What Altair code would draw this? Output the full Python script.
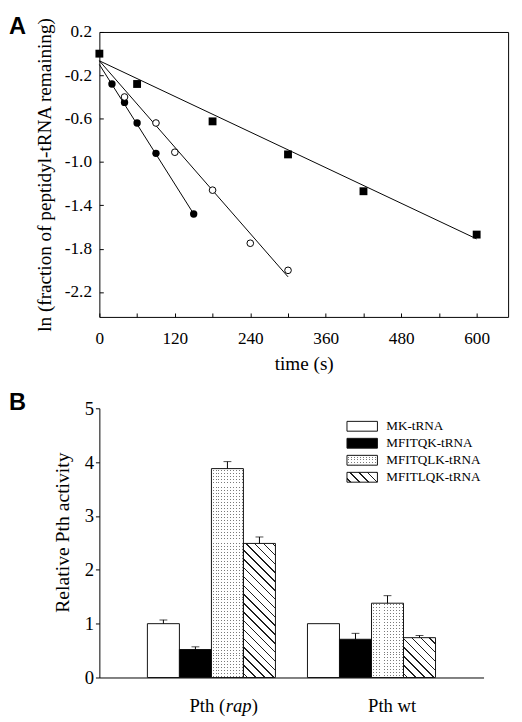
import altair as alt
import pandas as pd

FONT = "Liberation Serif"
BOLD_FONT = "Liberation Sans"

# ---------------- Panel A data ----------------
sq_t = [0, 60, 180, 300, 420, 600]
sq_y = [0.0, -0.28, -0.625, -0.93, -1.27, -1.67]
fc_t = [20, 40, 60, 90, 150]
fc_y = [-0.28, -0.45, -0.64, -0.92, -1.48]
oc_t = [40, 90, 120, 180, 240, 300]
oc_y = [-0.40, -0.64, -0.91, -1.26, -1.75, -2.00]
fit_series = ["sq", "sq", "oc", "oc", "fc", "fc"]
fit_t = [0, 600, 0, 300, 0, 150]
fit_y = [-0.066, -1.71, -0.066, -2.06, -0.10, -1.48]
x_ticks_A = [0, 60, 120, 180, 240, 300, 360, 420, 480, 540, 600]
y_ticks_A = [-2.2, -1.8, -1.4, -1.0, -0.6, -0.2, 0.2]
x_domain_A = [0, 650]
y_domain_A = [-2.43, 0.2]

# ---------------- Panel B data ----------------
groups = ["Pth (rap)", "Pth wt"]
series = ["MK-tRNA", "MFITQK-tRNA", "MFITQLK-tRNA", "MFITLQK-tRNA"]
vals_rap = [1.0, 0.52, 3.88, 2.49]
errs_rap = [0.07, 0.05, 0.13, 0.12]
vals_wt = [1.0, 0.71, 1.38, 0.74]
errs_wt = [0.0, 0.11, 0.14, 0.04]
y_ticks_B = [0, 1, 2, 3, 4, 5]
y_domain_B = [0, 5]
label_text = ["Pth (", "rap", ")", "Pth wt"]
label_group = [groups[0], groups[0], groups[0], groups[1]]
panel_labels = ["A", "B"]

# ---------------- sizes / styles ----------------
WA, HA = 416, 290
WB, HB = 391, 274
BAR_W = WB / 12.0
LEG_W, LEG_H = 31.0, 10.0
WHITE = "#ffffff"
CLEAR = "rgba(255,255,255,0)"
DOT = "#7a7a7a"
HATCH = "#1e1e1e"
EDGE = "#111111"


def stripes(n_periods, start, length, on_color, off_color):
    stops = [{"offset": 0, "color": off_color}]
    i = 0
    while True:
        a = (i + start) / n_periods
        if a >= 1:
            break
        b = min((i + start + length) / n_periods, 1.0)
        stops += [{"offset": round(a, 5), "color": off_color},
                  {"offset": round(a, 5), "color": on_color},
                  {"offset": round(b, 5), "color": on_color},
                  {"offset": round(b, 5), "color": off_color}]
        i += 1
    stops.append({"offset": 1, "color": off_color})
    return stops


def hatch_grad(w, h, period=9.0, line=1.5):
    span = w + h
    k = span / (w * w + h * h)
    return {"gradient": "linear", "x1": 0, "y1": 1, "x2": round(w * k, 5), "y2": round(1 - h * k, 5),
            "stops": stripes(span / period, 0.35, line / period, HATCH, WHITE)}


def vstripe_grad(w, period=3.0):
    return {"gradient": "linear", "x1": 0, "y1": 0, "x2": 1, "y2": 0,
            "stops": stripes(w / period, 0.4, 1.0 / period, DOT, WHITE)}


def hmask_grad(h, period=3.0):
    return {"gradient": "linear", "x1": 0, "y1": 0, "x2": 0, "y2": 1,
            "stops": stripes(h / period, 0.4, 1.0 / period, CLEAR, WHITE)}


# ---------------- Panel A ----------------
fit_df = pd.DataFrame({"series": fit_series, "t": fit_t, "y": fit_y})
sq_df = pd.DataFrame({"t": sq_t, "y": sq_y})
fc_df = pd.DataFrame({"t": fc_t, "y": fc_y})
oc_df = pd.DataFrame({"t": oc_t, "y": oc_y})

xA = alt.X("t:Q", scale=alt.Scale(domain=x_domain_A, nice=False, zero=False),
           axis=alt.Axis(values=x_ticks_A, labelExpr="datum.value % 120 === 0 ? datum.label : ''",
                         offset=-4, tickSize=4, tickColor="black", domain=False, grid=False,
                         labelFont=FONT, labelFontSize=17.5, labelColor="black", labelPadding=13,
                         labelFlush=False, labelOverlap=False,
                         title="time (s)", titleFont=FONT, titleFontSize=19.5, titleFontWeight="normal",
                         titleColor="black", titlePadding=8))
yA = alt.Y("y:Q", scale=alt.Scale(domain=y_domain_A, nice=False, zero=False),
           axis=alt.Axis(values=y_ticks_A,
                         labelExpr="(datum.value < 0 ? '-' : '') + format(abs(datum.value), '.1f')",
                         offset=-4, tickSize=4, tickColor="black", domain=False, grid=False,
                         labelFont=FONT, labelFontSize=17.5, labelColor="black", labelPadding=8,
                         labelOverlap=False,
                         title="ln (fraction of peptidyl-tRNA remaining)", titleFont=FONT,
                         titleFontSize=19.5, titleFontWeight="normal", titleColor="black",
                         titlePadding=10))

linesA = alt.Chart(fit_df).mark_line(color="black", strokeWidth=1).encode(x=xA, y=yA, detail="series:N")
squares = alt.Chart(sq_df).mark_point(shape="square", filled=True, color="black", size=64,
                                      opacity=1).encode(x="t:Q", y="y:Q")
fcircles = alt.Chart(fc_df).mark_circle(color="black", size=56, opacity=1).encode(x="t:Q", y="y:Q")
ocircles = alt.Chart(oc_df).mark_circle(fill="white", stroke="black", strokeWidth=1, size=46,
                                        opacity=1).encode(x="t:Q", y="y:Q")
labA = alt.Chart(pd.DataFrame({"lab": [panel_labels[0]]})).mark_text(
    font=BOLD_FONT, fontSize=24, fontWeight="bold", align="left", baseline="top", color="black"
).encode(x=alt.value(-92), y=alt.value(-17), text="lab:N")

panelA = alt.layer(linesA, squares, fcircles, ocircles, labA).properties(
    width=WA, height=HA, view=alt.ViewBackground(stroke="black", strokeWidth=1))

# ---------------- Panel B ----------------
rows = []
for g, vals, errs in [(groups[0], vals_rap, errs_rap), (groups[1], vals_wt, errs_wt)]:
    for s, v, e in zip(series, vals, errs):
        rows.append({"group": g, "series": s, "value": v, "upper": v + e, "err": e})
bdf = pd.DataFrame(rows)

xB = alt.X("group:N", scale=alt.Scale(domain=groups, paddingInner=0.2, paddingOuter=0.3),
           axis=alt.Axis(labels=False, ticks=False, title=None, domain=True, domainColor="black",
                         domainWidth=1, grid=False))
xoB = alt.XOffset("series:N", scale=alt.Scale(domain=series, paddingInner=0, paddingOuter=0))
yB = alt.Y("value:Q", scale=alt.Scale(domain=y_domain_B, nice=False),
           axis=alt.Axis(values=y_ticks_B, format="d", tickSize=4, tickColor="black", domainColor="black",
                         grid=False, labelFont=FONT, labelFontSize=19, labelColor="black", labelPadding=2,
                         title="Relative Pth activity", titleFont=FONT, titleFontSize=20,
                         titleFontWeight="normal", titleColor="black", titlePadding=12, titleY=126))
fillB = alt.Fill("series:N", scale=alt.Scale(domain=series, range=["white", "black", "white", "white"]),
                 legend=None)

bars = alt.Chart(bdf).mark_bar(strokeWidth=0).encode(x=xB, xOffset=xoB, y=yB, fill=fillB)
layersB = [bars]

for g, vals in [(groups[0], vals_rap), (groups[1], vals_wt)]:
    # dotted bar (MFITQLK)
    v = vals[2]
    h = v / y_domain_B[1] * HB
    base = alt.Chart(bdf).transform_filter(
        (alt.datum.group == g) & (alt.datum.series == series[2]))
    layersB.append(base.mark_bar(fill=vstripe_grad(BAR_W), strokeWidth=0).encode(
        x="group:N", xOffset="series:N", y="value:Q"))
    layersB.append(base.mark_bar(fill=hmask_grad(h), strokeWidth=0).encode(
        x="group:N", xOffset="series:N", y="value:Q"))
    # hatched bar (MFITLQK)
    v = vals[3]
    h = v / y_domain_B[1] * HB
    base = alt.Chart(bdf).transform_filter(
        (alt.datum.group == g) & (alt.datum.series == series[3]))
    layersB.append(base.mark_bar(fill=hatch_grad(BAR_W, h), strokeWidth=0).encode(
        x="group:N", xOffset="series:N", y="value:Q"))

outline = alt.Chart(bdf).mark_bar(fillOpacity=0, stroke=EDGE, strokeWidth=1).encode(
    x="group:N", xOffset="series:N", y="value:Q")
err_base = alt.Chart(bdf).transform_filter(alt.datum.err > 0)
err_rule = err_base.mark_rule(color="black", strokeWidth=1).encode(
    x="group:N", xOffset="series:N", y="value:Q", y2="upper:Q")
err_cap = err_base.mark_tick(color="black", thickness=1, size=8, orient="horizontal").encode(
    x="group:N", xOffset="series:N", y="upper:Q")
layersB += [outline, err_rule, err_cap]

lab_df = pd.DataFrame({"group": label_group, "text": label_text})
label_align = ["right", "left", "left", "center"]
label_dx = [14, 14.5, 41, 21]
label_style = ["normal", "italic", "normal", "normal"]
for i in range(len(label_text)):
    layersB.append(alt.Chart(lab_df.iloc[[i]]).mark_text(
        font=FONT, fontSize=19, fontStyle=label_style[i], align=label_align[i], dx=label_dx[i],
        baseline="middle", color="black").encode(x="group:N", y=alt.value(HB + 29), text="text:N"))

layersB.append(alt.Chart(pd.DataFrame({"lab": [panel_labels[1]]})).mark_text(
    font=BOLD_FONT, fontSize=24, fontWeight="bold", align="left", baseline="top", color="black"
).encode(x=alt.value(-92), y=alt.value(-17), text="lab:N"))

plotB = alt.layer(*layersB)

# legend (built from the series list)
leg_df = pd.DataFrame({"series": series})
ly = alt.Y("series:N", scale=alt.Scale(type="band", domain=series, range=[9.65, 78.85],
                                        paddingInner=0.422, paddingOuter=0.211), axis=None)
LX0, LX1, LTX = 252, 252 + LEG_W, 292
leg_plain = alt.Chart(leg_df).mark_rect(strokeWidth=0).encode(
    x=alt.value(LX0), x2=alt.value(LX1), y=ly, fill=fillB)
leg_dot1 = alt.Chart(leg_df).transform_filter(alt.datum.series == series[2]).mark_rect(
    fill=vstripe_grad(LEG_W), strokeWidth=0).encode(x=alt.value(LX0), x2=alt.value(LX1), y="series:N")
leg_dot2 = alt.Chart(leg_df).transform_filter(alt.datum.series == series[2]).mark_rect(
    fill=hmask_grad(LEG_H), strokeWidth=0).encode(x=alt.value(LX0), x2=alt.value(LX1), y="series:N")
leg_hatch = alt.Chart(leg_df).transform_filter(alt.datum.series == series[3]).mark_rect(
    fill=hatch_grad(LEG_W, LEG_H), strokeWidth=0).encode(x=alt.value(LX0), x2=alt.value(LX1), y="series:N")
leg_edge = alt.Chart(leg_df).mark_rect(fillOpacity=0, stroke=EDGE, strokeWidth=1).encode(
    x=alt.value(LX0), x2=alt.value(LX1), y="series:N")
leg_text = alt.Chart(leg_df).mark_text(font=FONT, fontSize=13.4, align="left", baseline="middle",
                                       color="black").encode(x=alt.value(LTX), y="series:N",
                                                             text="series:N")
legendB = alt.layer(leg_plain, leg_dot1, leg_dot2, leg_hatch, leg_edge, leg_text)

panelB = alt.layer(plotB, legendB).resolve_scale(y="independent").properties(
    width=WB, height=HB, view=alt.ViewBackground(stroke="transparent"))

chart = alt.vconcat(panelA, panelB, spacing=17).properties(
    padding={"left": 0, "top": 0, "right": 5, "bottom": 6}, background="white"
).configure_view(stroke="transparent")

chart.save("out.html", embed_options={"renderer": "svg", "actions": False})
